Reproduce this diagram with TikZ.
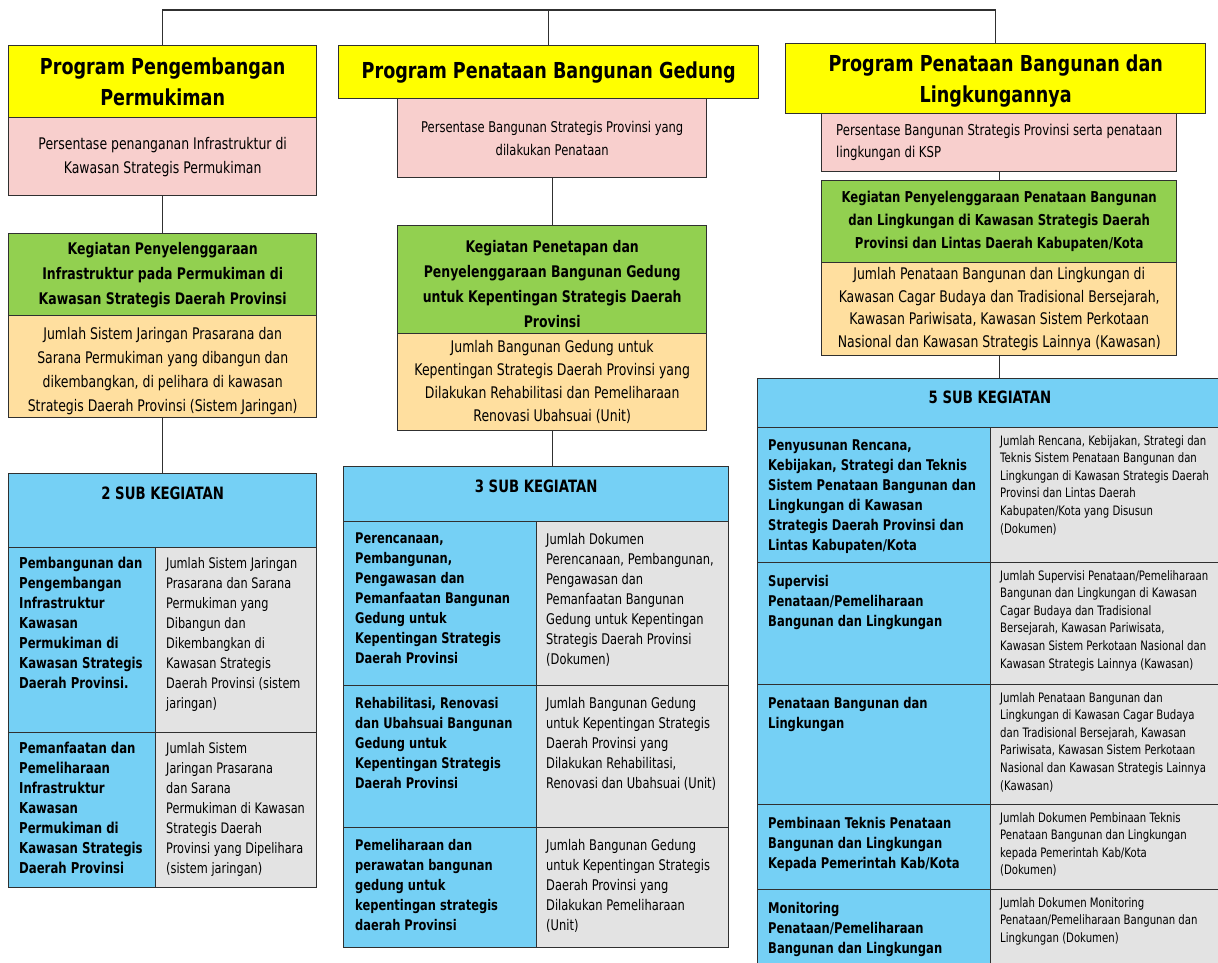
\documentclass[tikz,border=0pt]{standalone}
\usepackage{fontspec}
\setmainfont{DejaVu Sans}[FakeStretch=0.78]
\newfontfamily\titlefont{DejaVu Sans}[FakeStretch=0.80]

\definecolor{progyellow}{HTML}{FFFF00}
\definecolor{indpink}{HTML}{F8CFCD}
\definecolor{keggreen}{HTML}{92D050}
\definecolor{indorange}{HTML}{FFDF9F}
\definecolor{subblue}{HTML}{75D0F5}
\definecolor{subgray}{HTML}{E3E3E3}
\definecolor{edge}{HTML}{303030}

\tikzset{
  box/.style={draw=edge, line width=1.4pt, anchor=north west, inner sep=0pt, align=center},
  prog/.style={box, fill=progyellow, font=\titlefont\bfseries\fontsize{22}{31}\selectfont},
  indi/.style={box, fill=indpink, font=\fontsize{16}{24}\selectfont},
  keg/.style={box, fill=keggreen, font=\bfseries\fontsize{16}{25}\selectfont},
  kegind/.style={box, fill=indorange, font=\fontsize{16}{24}\selectfont},
  subhead/.style={box, fill=subblue},
  subhead text/.style={inner sep=0pt, font=\bfseries\fontsize{17}{20}\selectfont},
  lcell/.style={box, fill=subblue},
  rcell/.style={box, fill=subgray},
  lcell text/.style={anchor=north west, xshift=11pt, yshift=-10pt, align=left, inner sep=0pt,
    font=\bfseries\fontsize{15}{20}\selectfont},
  rcell text/.style={anchor=north west, xshift=11pt, yshift=-10pt, align=left, inner sep=0pt,
    font=\fontsize{14.5}{20}\selectfont},
  link/.style={draw=edge, line width=1.4pt},
}

% one cell of a sub kegiatan table: style, name, x, y, width, height, text
\newcommand{\subcell}[7]{%
  \node[#1, minimum width=#5pt, minimum height=#6pt] (#2) at (#3,#4) {};
  \node[#1 text] (#2-t) at (#2.north west) {#7};}

\begin{document}
\begin{tikzpicture}[x=1pt,y=-1pt]
  \useasboundingbox[fill=white] (0,0) rectangle (1218,963);

  % programs
  \node[prog, minimum width=308pt, minimum height=72pt] (y1) at (8,45) {Program Pengembangan\\Permukiman};
  \node[prog, minimum width=420pt, minimum height=53pt] (y2) at (338,45) {Program Penataan Bangunan Gedung};
  \node[prog, minimum width=420pt, minimum height=70pt] (y3) at (785,43) {\rule{0pt}{22pt}Program Penataan Bangunan dan\\Lingkungannya};

  \coordinate (top) at (0,10);
  \draw[link] (y1.north) -- (y1.north |- top) -- (y3.north |- top) -- (y3.north);
  \draw[link] (y2.north) -- (y2.north |- top);

  % program indicators
  \node[indi, minimum width=308pt, minimum height=78pt] (p1) at (8,117) {Persentase penanganan Infrastruktur di\\Kawasan Strategis Permukiman};
  \node[indi, minimum width=309pt, minimum height=79pt, font=\fontsize{14.8}{23}\selectfont] (p2) at (397,98) {Persentase Bangunan Strategis Provinsi yang\\dilakukan Penataan};
  \node[indi, minimum width=355pt, minimum height=58pt, align=left, font=\fontsize{15}{22}\selectfont] (p3) at (821,113) {Persentase Bangunan Strategis Provinsi serta penataan\\lingkungan di KSP};

  % kegiatan
  \node[keg, minimum width=308pt, minimum height=82pt] (g1) at (8,233) {Kegiatan Penyelenggaraan\\Infrastruktur pada Permukiman di\\Kawasan Strategis Daerah Provinsi};
  \node[keg, minimum width=309pt, minimum height=108pt] (g2) at (397,225) {\rule{0pt}{20pt}Kegiatan Penetapan dan\\Penyelenggaraan Bangunan Gedung\\untuk Kepentingan Strategis Daerah\\Provinsi};
  \node[keg, minimum width=355pt, minimum height=82pt, font=\bfseries\fontsize{15}{23}\selectfont] (g3) at (821,180) {Kegiatan Penyelenggaraan Penataan Bangunan\\dan Lingkungan di Kawasan Strategis Daerah\\Provinsi dan Lintas Daerah Kabupaten/Kota};

  \draw[link] (p1.south) -- (g1.north);
  \draw[link] (p2.south) -- (g2.north);
  \draw[link] (p3.south) -- (g3.north);

  % kegiatan indicators
  \node[kegind, minimum width=308pt, minimum height=102pt] (o1) at (8,315) {\rule{0pt}{20pt}Jumlah Sistem Jaringan Prasarana dan\\Sarana Permukiman yang dibangun dan\\dikembangkan, di pelihara di kawasan\\Strategis Daerah Provinsi (Sistem Jaringan)};
  \node[kegind, minimum width=309pt, minimum height=97pt, font=\fontsize{16}{23}\selectfont] (o2) at (397,333) {Jumlah Bangunan Gedung untuk\\Kepentingan Strategis Daerah Provinsi yang\\Dilakukan Rehabilitasi dan Pemeliharaan\\Renovasi Ubahsuai (Unit)};
  \node[kegind, minimum width=355pt, minimum height=93pt, font=\fontsize{16}{22.5}\selectfont] (o3) at (821,262) {Jumlah Penataan Bangunan dan Lingkungan di\\Kawasan Cagar Budaya dan Tradisional Bersejarah,\\Kawasan Pariwisata, Kawasan Sistem Perkotaan\\Nasional dan Kawasan Strategis Lainnya (Kawasan)};

  % 2 sub kegiatan
  \node[subhead, minimum width=308pt, minimum height=74pt] (h1) at (8,473) {};
  \node[subhead text] (h1-t) at ([yshift=-20pt]h1.north) {2 SUB KEGIATAN};
  \subcell{lcell}{a1}{8}{547}{147}{185}{Pembangunan dan\\Pengembangan\\Infrastruktur\\Kawasan\\Permukiman di\\Kawasan Strategis\\Daerah Provinsi.}
  \subcell{rcell}{b1}{155}{547}{161}{185}{Jumlah Sistem Jaringan\\Prasarana dan Sarana\\Permukiman yang\\Dibangun dan\\Dikembangkan di\\Kawasan Strategis\\Daerah Provinsi (sistem\\jaringan)}
  \subcell{lcell}{a2}{8}{732}{147}{155}{Pemanfaatan dan\\Pemeliharaan\\Infrastruktur\\Kawasan\\Permukiman di\\Kawasan Strategis\\Daerah Provinsi}
  \subcell{rcell}{b2}{155}{732}{161}{155}{Jumlah Sistem\\Jaringan Prasarana\\dan Sarana\\Permukiman di Kawasan\\Strategis Daerah\\Provinsi yang Dipelihara\\(sistem jaringan)}

  % 3 sub kegiatan
  \node[subhead, minimum width=385pt, minimum height=55pt] (h2) at (343,466) {};
  \node[subhead text] (h2-t) at ([yshift=-20pt]h2.north) {3 SUB KEGIATAN};
  \begin{scope}[lcell text/.append style={xshift=1pt, yshift=-2pt, font=\bfseries\fontsize{14.7}{20}\selectfont},
                rcell text/.append style={xshift=-1pt, yshift=-2pt, font=\fontsize{14.7}{20}\selectfont}]
    \subcell{lcell}{c1}{343}{521}{193}{164}{Perencanaan,\\Pembangunan,\\Pengawasan dan\\Pemanfaatan Bangunan\\Gedung untuk\\Kepentingan Strategis\\Daerah Provinsi}
    \subcell{rcell}{d1}{536}{521}{192}{164}{Jumlah Dokumen\\Perencanaan, Pembangunan,\\Pengawasan dan\\Pemanfaatan Bangunan\\Gedung untuk Kepentingan\\Strategis Daerah Provinsi\\(Dokumen)}
    \subcell{lcell}{c2}{343}{685}{193}{142}{Rehabilitasi, Renovasi\\dan Ubahsuai Bangunan\\Gedung untuk\\Kepentingan Strategis\\Daerah Provinsi}
    \subcell{rcell}{d2}{536}{685}{192}{142}{Jumlah Bangunan Gedung\\untuk Kepentingan Strategis\\Daerah Provinsi yang\\Dilakukan Rehabilitasi,\\Renovasi dan Ubahsuai (Unit)}
    \subcell{lcell}{c3}{343}{827}{193}{120}{Pemeliharaan dan\\perawatan bangunan\\gedung untuk\\kepentingan strategis\\daerah Provinsi}
    \subcell{rcell}{d3}{536}{827}{192}{120}{Jumlah Bangunan Gedung\\untuk Kepentingan Strategis\\Daerah Provinsi yang\\Dilakukan Pemeliharaan\\(Unit)}
  \end{scope}

  % 5 sub kegiatan
  \node[subhead, minimum width=466pt, minimum height=49pt] (h3) at (757,378) {};
  \node[subhead text] (h3-t) at ([yshift=-19pt]h3.north -| 990,0) {5 SUB KEGIATAN};
  \begin{scope}[lcell text/.append style={yshift=-3pt, font=\bfseries\fontsize{14.8}{20}\selectfont},
                rcell text/.append style={xshift=-1pt, yshift=2pt, font=\fontsize{13}{17.6}\selectfont}]
    \subcell{lcell}{e1}{757}{427}{233}{135}{Penyusunan Rencana,\\Kebijakan, Strategi dan Teknis\\Sistem Penataan Bangunan dan\\Lingkungan di Kawasan\\Strategis Daerah Provinsi dan\\Lintas Kabupaten/Kota}
    \subcell{rcell}{f1}{990}{427}{233}{135}{Jumlah Rencana, Kebijakan, Strategi dan\\Teknis Sistem Penataan Bangunan dan\\Lingkungan di Kawasan Strategis Daerah\\Provinsi dan Lintas Daerah\\Kabupaten/Kota yang Disusun\\(Dokumen)}
    \subcell{lcell}{e2}{757}{562}{233}{122}{Supervisi\\Penataan/Pemeliharaan\\Bangunan dan Lingkungan}
    \subcell{rcell}{f2}{990}{562}{233}{122}{Jumlah Supervisi Penataan/Pemeliharaan\\Bangunan dan Lingkungan di Kawasan\\Cagar Budaya dan Tradisional\\Bersejarah, Kawasan Pariwisata,\\Kawasan Sistem Perkotaan Nasional dan\\Kawasan Strategis Lainnya (Kawasan)}
    \subcell{lcell}{e3}{757}{684}{233}{120}{Penataan Bangunan dan\\Lingkungan}
    \subcell{rcell}{f3}{990}{684}{233}{120}{Jumlah Penataan Bangunan dan\\Lingkungan di Kawasan Cagar Budaya\\dan Tradisional Bersejarah, Kawasan\\Pariwisata, Kawasan Sistem Perkotaan\\Nasional dan Kawasan Strategis Lainnya\\(Kawasan)}
    \subcell{lcell}{e4}{757}{804}{233}{85}{Pembinaan Teknis Penataan\\Bangunan dan Lingkungan\\Kepada Pemerintah Kab/Kota}
    \subcell{rcell}{f4}{990}{804}{233}{85}{Jumlah Dokumen Pembinaan Teknis\\Penataan Bangunan dan Lingkungan\\kepada Pemerintah Kab/Kota\\(Dokumen)}
    \subcell{lcell}{e5}{757}{889}{233}{90}{Monitoring\\Penataan/Pemeliharaan\\Bangunan dan Lingkungan}
    \subcell{rcell}{f5}{990}{889}{233}{90}{Jumlah Dokumen Monitoring\\Penataan/Pemeliharaan Bangunan dan\\Lingkungan (Dokumen)}
  \end{scope}

  \draw[link] (o1.south) -- (h1.north);
  \draw[link] (o2.south) -- (o2.south |- h2.north);
  \draw[link] (o3.south) -- (o3.south |- h3.north);
\end{tikzpicture}
\end{document}
